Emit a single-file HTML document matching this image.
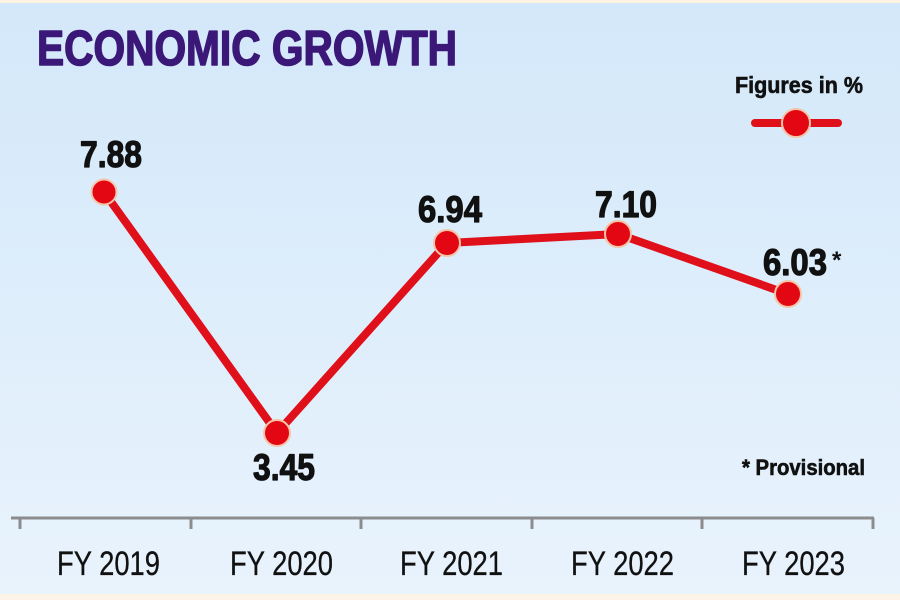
<!DOCTYPE html>
<html>
<head>
<meta charset="utf-8">
<style>
  html, body { margin: 0; padding: 0; }
  body { width: 900px; height: 600px; overflow: hidden; background: #e6f2fc; }
  svg { display: block; }
  text { font-family: "Liberation Sans Narrow", "Liberation Sans", sans-serif; }
</style>
</head>
<body>
<svg width="900" height="600" viewBox="0 0 900 600" xmlns="http://www.w3.org/2000/svg">
  <defs>
    <linearGradient id="bg" x1="0" y1="0" x2="0" y2="1">
      <stop offset="0" stop-color="#d3e8fa"/>
      <stop offset="1" stop-color="#e9f3fc"/>
    </linearGradient>
  </defs>
  <rect x="0" y="0" width="900" height="600" fill="url(#bg)"/>
  <rect x="0" y="0" width="900" height="3" fill="#fcf3e0"/>
  <rect x="0" y="594" width="900" height="6" fill="#fcf3e6"/>

  <!-- Title -->
  <text x="37" y="65" font-size="49" font-weight="bold" fill="#3b1878" stroke="#3b1878" stroke-width="1.6" stroke-linejoin="round" textLength="420" lengthAdjust="spacingAndGlyphs">ECONOMIC GROWTH</text>

  <!-- Legend -->
  <text x="735" y="93" font-size="23" font-weight="bold" fill="#111" stroke="#111" stroke-width="0.6" textLength="128" lengthAdjust="spacingAndGlyphs">Figures in %</text>
  <line x1="755" y1="123" x2="838" y2="123" stroke="#e0101a" stroke-width="8" stroke-linecap="round"/>
  <circle cx="796" cy="123" r="14" fill="#e30613" stroke="#f6c4a8" stroke-width="2"/>

  <!-- Axis -->
  <line x1="11" y1="518" x2="874" y2="518" stroke="#8c8c8c" stroke-width="3"/>
  <g stroke="#8c8c8c" stroke-width="3">
    <line x1="20" y1="518" x2="20" y2="529"/>
    <line x1="191" y1="518" x2="191" y2="529"/>
    <line x1="361" y1="518" x2="361" y2="529"/>
    <line x1="532" y1="518" x2="532" y2="529"/>
    <line x1="702" y1="518" x2="702" y2="529"/>
    <line x1="873" y1="518" x2="873" y2="529"/>
  </g>
  <g font-size="34" fill="#111" stroke="#111" stroke-width="0.3">
    <text x="57" y="575" textLength="103" lengthAdjust="spacingAndGlyphs">FY 2019</text>
    <text x="230" y="575" textLength="103" lengthAdjust="spacingAndGlyphs">FY 2020</text>
    <text x="400" y="575" textLength="103" lengthAdjust="spacingAndGlyphs">FY 2021</text>
    <text x="571" y="575" textLength="103" lengthAdjust="spacingAndGlyphs">FY 2022</text>
    <text x="742" y="575" textLength="103" lengthAdjust="spacingAndGlyphs">FY 2023</text>
  </g>

  <!-- Series -->
  <polyline points="104,192 277,433 447,243 618,234 788,294" fill="none" stroke="#e0101a" stroke-width="8" stroke-linejoin="round" stroke-linecap="round"/>
  <g fill="#e30613" stroke="#f6c4a8" stroke-width="2">
    <circle cx="104" cy="192" r="12.5"/>
    <circle cx="277" cy="433" r="13"/>
    <circle cx="447" cy="243" r="13"/>
    <circle cx="618" cy="234" r="13"/>
    <circle cx="788" cy="294" r="13"/>
  </g>

  <!-- Value labels -->
  <g font-size="37" font-weight="bold" fill="#111" stroke="#111" stroke-width="1.2" stroke-linejoin="round">
    <text x="80" y="167" textLength="62" lengthAdjust="spacingAndGlyphs">7.88</text>
    <text x="253" y="480" textLength="62" lengthAdjust="spacingAndGlyphs">3.45</text>
    <text x="418" y="222" textLength="64" lengthAdjust="spacingAndGlyphs">6.94</text>
    <text x="595" y="217" textLength="62" lengthAdjust="spacingAndGlyphs">7.10</text>
    <text x="763" y="275" textLength="64" lengthAdjust="spacingAndGlyphs">6.03</text>
  </g>
  <text x="832" y="268" font-size="24" font-weight="bold" fill="#111">*</text>

  <!-- Footnote -->
  <text x="742" y="475" font-size="22" font-weight="bold" fill="#111" stroke="#111" stroke-width="0.6" textLength="123" lengthAdjust="spacingAndGlyphs">* Provisional</text>
</svg>
</body>
</html>
